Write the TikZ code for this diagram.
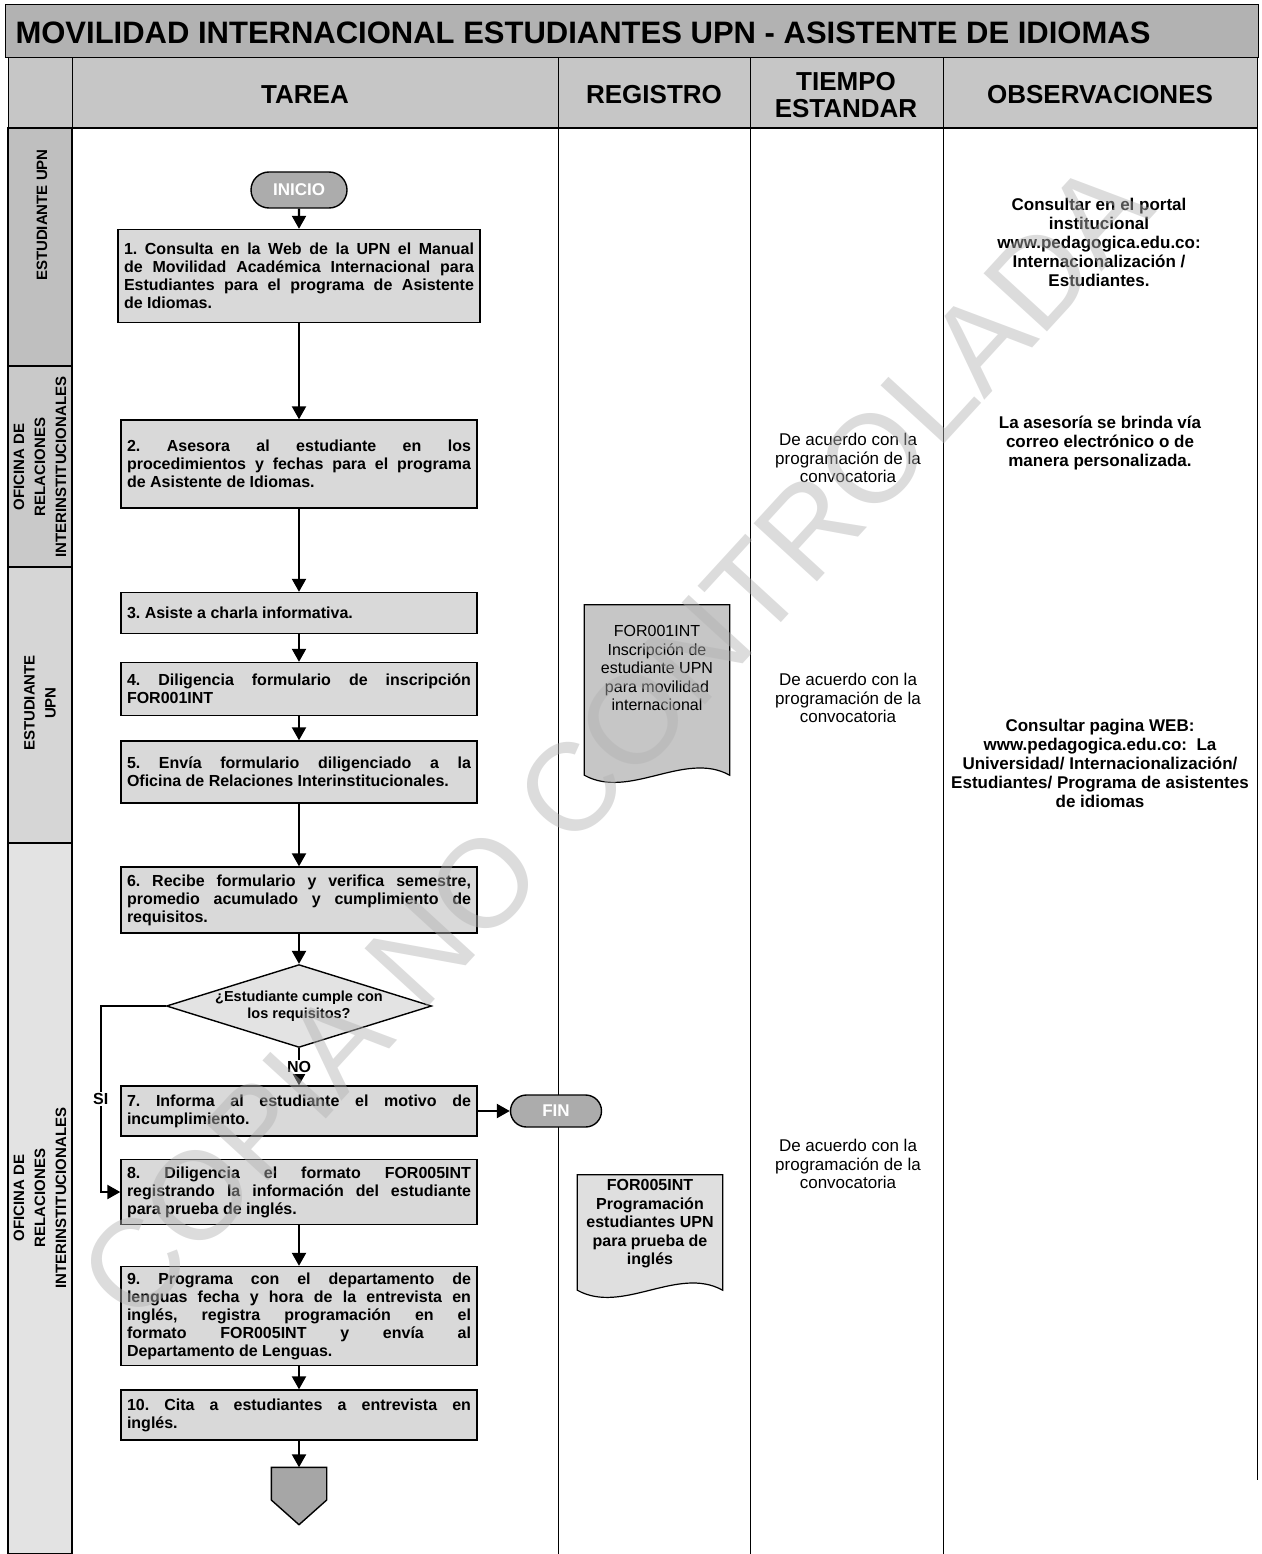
\documentclass[tikz,border=0pt]{standalone}
\usepackage{fontspec}
\setmainfont{Liberation Sans}
\usetikzlibrary{positioning,shapes.geometric,shapes.misc,arrows.meta,backgrounds}

\begin{document}
\begin{tikzpicture}[x=1pt, y=-1pt,
    tarea/.style={rectangle, draw, line width=1.4pt, fill=gray!30, text width=344pt,
      align=justify, inner sep=6pt, font=\bfseries\fontsize{16}{18}\selectfont\frenchspacing},
    term/.style={rounded rectangle, draw, line width=1.4pt, fill=gray!65, text=white,
      inner sep=2pt, font=\bfseries\fontsize{17}{17}\selectfont},
    decision/.style={diamond, draw, line width=1.4pt, fill=gray!22, aspect=3.2, inner sep=0pt,
      align=center, font=\bfseries\fontsize{14.5}{17}\selectfont},
    registro/.style={rectangle, minimum width=145pt, inner sep=0pt, align=center},
    documento/.style={draw, line width=1.2pt},
    tiempo/.style={align=center, font=\fontsize{17}{18.5}\selectfont},
    obs/.style={align=center, font=\bfseries\fontsize{17}{19}\selectfont},
    carril/.style={rotate=90, align=center, font=\bfseries\fontsize{15}{21}\selectfont},
    cabecera/.style={align=center, font=\bfseries\fontsize{26}{27}\selectfont},
    flujo/.style={line width=2.2pt, -{Triangle[length=13pt,width=14pt]}},
    etiqueta/.style={fill=white, inner sep=1.5pt, font=\bfseries\fontsize{16}{16}\selectfont},
    rejilla/.style={line width=0.9pt}]

  \useasboundingbox (0,0) rectangle (1261,1554);

  % titulo y cabecera
  \draw[line width=1pt, fill=gray!60] (5,5) rectangle (1258,58);
  \node[anchor=west, font=\bfseries\fontsize{31}{31}\selectfont] (titulo) at (12,33)
    {MOVILIDAD INTERNACIONAL ESTUDIANTES UPN - ASISTENTE DE IDIOMAS};
  \foreach \xa/\xb in {8/72, 72/558, 558/750, 750/943, 943/1257}
    \draw[line width=1pt, fill=gray!45] (\xa,58) rectangle (\xb,128);
  \node[cabecera] (htarea) at (305,95) {TAREA};
  \node[cabecera] (hreg) at (654,95) {REGISTRO};
  \node[cabecera] (htiempo) at (846,95) {TIEMPO\\ESTANDAR};
  \node[cabecera] (hobs) at (1100,95) {OBSERVACIONES};

  % carriles
  \draw[line width=2pt, fill=gray!50] (8,128) rectangle (72,366);
  \draw[line width=2pt, fill=gray!42] (8,366) rectangle (72,567);
  \draw[line width=2pt, fill=gray!32] (8,567) rectangle (72,843);
  \draw[line width=2pt, fill=gray!22] (8,843) rectangle (72,1554);
  \node[carril] (c1) at (42,215) {ESTUDIANTE UPN};
  \node[carril] (c2) at (40,467) {OFICINA DE\\RELACIONES\\INTERINSTITUCIONALES};
  \node[carril] (c3) at (40,703) {ESTUDIANTE\\UPN};
  \node[carril] (c4) at (40,1198) {OFICINA DE\\RELACIONES\\INTERINSTITUCIONALES};

  % columnas
  \draw[line width=1.6pt] (72,128) -- (1257,128);
  \draw[rejilla] (558,128) -- (558,1554);
  \draw[rejilla] (750,128) -- (750,1554);
  \draw[rejilla] (943,128) -- (943,1554);
  \draw[rejilla] (1257,128) -- (1257,1480);

  % tareas
  \node[term, minimum width=100pt, minimum height=36pt] (inicio) at (299,190) {INICIO};
  \begin{scope}[every node/.style={tarea}]
    \node (1) at (299,276) [minimum height=93pt, text width=350pt] {1. Consulta en la Web de la UPN el Manual\linebreak
      de Movilidad Académica Internacional para\linebreak Estudiantes para el programa de Asistente\linebreak de Idiomas.};
    \node (2) at (299,464) [minimum height=88pt] {2. Asesora al estudiante en los\linebreak
      procedimientos y fechas para el programa\linebreak de Asistente de Idiomas.};
    \node (3) at (299,613) [minimum height=41pt] {3. Asiste a charla informativa.};
    \node (4) at (299,689) [minimum height=53pt] {4. Diligencia formulario de inscripción\linebreak FOR001INT};
    \node (5) at (299,772) [minimum height=62pt] {5. Envía formulario diligenciado a la\linebreak
      Oficina de Relaciones Interinstitucionales.};
    \node (6) at (299,900) [minimum height=66pt] {6. Recibe formulario y verifica semestre,\linebreak
      promedio acumulado y cumplimiento de\linebreak requisitos.};
    \node (7) at (299,1111) [minimum height=50pt] {7. Informa al estudiante el motivo de\linebreak incumplimiento.};
    \node (8) at (299,1192) [minimum height=65pt] {8. Diligencia el formato FOR005INT\linebreak
      registrando la información del estudiante\linebreak para prueba de inglés.};
    \node (9) at (299,1316) [minimum height=97pt] {9. Programa con el departamento de\linebreak
      lenguas fecha y hora de la entrevista en\linebreak inglés, registra programación en el\linebreak
      formato FOR005INT y envía al\linebreak Departamento de Lenguas.};
    \node (10) at (299,1415) [minimum height=50pt] {10. Cita a estudiantes a entrevista en\linebreak inglés.};
  \end{scope}
  \node[decision] (dec) at (299,1006) {¿Estudiante cumple con\\los requisitos?};
  \node[term, minimum width=95pt, minimum height=32pt] (fin) at (556,1111) {FIN};
  \node[minimum width=55pt, minimum height=57pt, inner sep=0pt] (conn) at (299,1496) {};
  \filldraw[fill=gray!70, line width=1.4pt] (conn.north west) -- (conn.north east) -- ([yshift=-4pt]conn.east)
    -- (conn.south) -- ([yshift=-4pt]conn.west) -- cycle;

  % conectores
  \begin{scope}[every edge/.style={draw, flujo}]
    \path (inicio) edge (1);
    \path (1) edge (2);
    \path (2) edge (3);
    \path (3) edge (4);
    \path (4) edge (5);
    \path (5) edge (6);
    \path (6) edge (dec);
    \path (dec) edge node[etiqueta] {NO} (7);
    \path (7) edge (fin);
    \path (8) edge (9);
    \path (9) edge (10);
    \path (10) edge (conn);
  \end{scope}
  \draw[flujo] (dec.west) -- ++(-65,0) |- (8.west) node[etiqueta, pos=0.25] {SI};

  % registros
  \node[registro, minimum height=126pt, font=\fontsize{16}{18.5}\selectfont] (r1) at (657,668)
    {FOR001INT\\Inscripción de\\estudiante UPN\\para movilidad\\internacional};
  \node[registro, minimum height=98pt, font=\bfseries\fontsize{16}{18.5}\selectfont] (r2) at (650,1224)
    {FOR005INT\\Programación\\estudiantes UPN\\para prueba de\\inglés};
  \begin{pgfonlayer}{background}
    \filldraw[documento, fill=gray!45] (r1.north west) -- (r1.north east) -- ([yshift=-44pt]r1.south east)
      .. controls +(-45,-25) and +(45,25) .. ([yshift=-44pt]r1.south west) -- cycle;
    \filldraw[documento, fill=gray!25] (r2.north west) -- (r2.north east) -- ([yshift=-17pt]r2.south east)
      .. controls +(-45,-25) and +(45,25) .. ([yshift=-17pt]r2.south west) -- cycle;
  \end{pgfonlayer}

  % tiempos
  \node[tiempo] (tp1) at (848,458) {De acuerdo con la\\programación de la\\convocatoria};
  \node[tiempo] (tp2) at (848,698) {De acuerdo con la\\programación de la\\convocatoria};
  \node[tiempo] (tp3) at (848,1164) {De acuerdo con la\\programación de la\\convocatoria};

  % observaciones
  \node[obs] (ob1) at (1099,242) {Consultar en el portal\\institucional\\www.pedagogica.edu.co:\\Internacionalización /\\Estudiantes.};
  \node[obs] (ob2) at (1100,443) {La asesoría se brinda vía\\correo electrónico o de\\manera personalizada.};
  \node[obs] (ob3) at (1100,763) {Consultar pagina WEB:\\www.pedagogica.edu.co:~~La\\Universidad/ Internacionalización/\\Estudiantes/ Programa de asistentes\\de idiomas};

  % marca de agua
  \node[rotate=47.5, text=gray!60, opacity=.45, font=\fontsize{125}{125}\selectfont] (marca) at (615,740)
    {COPIA NO CONTROLADA};
\end{tikzpicture}
\end{document}
